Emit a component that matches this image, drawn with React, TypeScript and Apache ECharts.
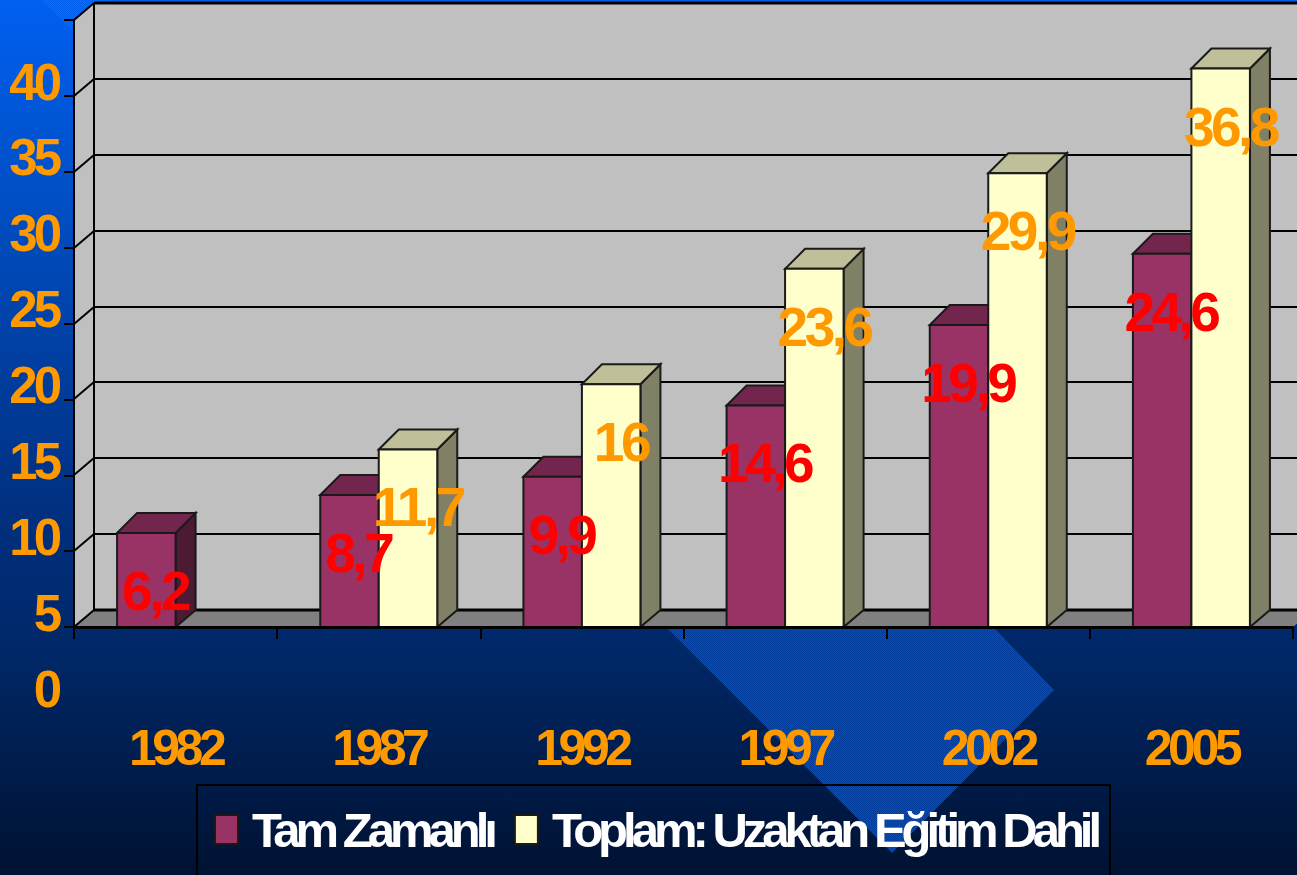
import React, { useEffect, useRef } from "react";
import * as echarts from "echarts";

const years = ["1982", "1987", "1992", "1997", "2002", "2005"];
const fullTime = [6.2, 8.7, 9.9, 14.6, 19.9, 24.6];
const total = [null, 11.7, 16, 23.6, 29.9, 36.8];
const valueTicks = [0, 5, 10, 15, 20, 25, 30, 35, 40];
const nameA = "Tam Zamanlı";
const nameB = "Toplam: Uzaktan Eğitim Dahil";

const FONT = '"Liberation Sans", Arial, sans-serif';
const ORANGE = "#ff9900";
const BAR_W = 58.5;
const DX = 20;
const TOP_DY = 20;
const FLOOR_DY = 17;

function dither(a: string, b: string) {
  const c = document.createElement("canvas");
  c.width = 2;
  c.height = 2;
  const g = c.getContext("2d")!;
  g.fillStyle = a;
  g.fillRect(0, 0, 2, 2);
  g.fillStyle = b;
  g.fillRect(0, 0, 1, 1);
  g.fillRect(1, 1, 1, 1);
  return { image: c, repeat: "repeat" };
}

function barRenderer(side: -1 | 1, front: string, top: string, dark: string, labelColor: string, labelDx: number) {
  return (_p: any, api: any) => {
    const v = api.value(1);
    if (v == null || isNaN(v)) return null;
    const c = api.coord([api.value(0), v]);
    const b = api.coord([api.value(0), 0]);
    const l = side < 0 ? c[0] - BAR_W : c[0];
    const r = l + BAR_W;
    const line = { stroke: "#1a1a1a", lineWidth: 2, lineJoin: "miter" };
    return {
      type: "group",
      children: [
        {
          type: "polygon",
          shape: { points: [[r, c[1]], [r + DX, c[1] - TOP_DY], [r + DX, b[1] - FLOOR_DY], [r, b[1]]] },
          style: { fill: dark, ...line },
          z2: side < 0 ? 1 : 3,
        },
        {
          type: "polygon",
          shape: { points: [[l, c[1]], [l + DX, c[1] - TOP_DY], [r + DX, c[1] - TOP_DY], [r, c[1]]] },
          style: { fill: top, ...line },
          z2: side < 0 ? 1 : 3,
        },
        {
          type: "rect",
          shape: { x: l, y: c[1], width: BAR_W, height: b[1] - c[1] },
          style: { fill: front, ...line },
          z2: side < 0 ? 2 : 4,
        },
        {
          type: "text",
          x: l + labelDx,
          y: c[1] + 58,
          z2: 50,
          style: {
            text: String(v).replace(".", ","),
            fill: labelColor,
            font: `bold 55px ${FONT}`,
            align: "center",
            verticalAlign: "middle",
          },
        },
      ],
    };
  };
}

function wallRenderer(params: any, api: any) {
  const cs = params.coordSys;
  const left = cs.x;
  const right = cs.x + cs.width;
  const yBase = api.coord([0, 0])[1];
  const yTop = api.coord([0, 40])[1];
  const gl = { stroke: "#000", lineWidth: 2 };
  const children: any[] = [
    { type: "polygon", shape: { points: [[left + DX, yTop - FLOOR_DY], [right + DX + 10, yTop - FLOOR_DY], [right + DX + 10, yBase - FLOOR_DY], [left + DX, yBase - FLOOR_DY]] }, style: { fill: "#c0c0c0", stroke: "none" } },
    { type: "polygon", shape: { points: [[left, yBase], [left + DX, yBase - FLOOR_DY], [left + DX, yTop - FLOOR_DY], [left, yTop]] }, style: { fill: "#c0c0c0", stroke: "none" } },
    { type: "polygon", shape: { points: [[left, yBase], [left + DX, yBase - FLOOR_DY], [right + DX, yBase - FLOOR_DY], [right, yBase]] }, style: { fill: "#808080", stroke: "none" } },
    { type: "line", shape: { x1: left + DX, y1: yTop - FLOOR_DY, x2: left + DX, y2: yBase - FLOOR_DY }, style: gl },
  ];
  valueTicks.forEach((t) => {
    const y = Math.round(api.coord([0, t])[1]);
    const w = t === 0 || t === 40 ? 3 : 2;
    children.push({ type: "line", shape: { x1: left, y1: y, x2: left + DX, y2: y - FLOOR_DY }, style: gl });
    children.push({ type: "line", shape: { x1: left + DX, y1: y - FLOOR_DY, x2: right + DX + 10, y2: y - FLOOR_DY }, style: { stroke: "#000", lineWidth: w } });
  });
  return { type: "group", children };
}

export default function App() {
  const ref = useRef<HTMLDivElement>(null);
  useEffect(() => {
    const chart = echarts.init(ref.current!, null, { renderer: "svg" });
    chart.setOption({
      animation: false,
      backgroundColor: {
        type: "linear", x: 0, y: 0, x2: 0, y2: 1,
        colorStops: [
          { offset: 0, color: "#0060f0" },
          { offset: 0.25, color: "#004dc0" },
          { offset: 0.58, color: "#003080" },
          { offset: 0.74, color: "#002868" },
          { offset: 1, color: "#001232" },
        ],
      },
      graphic: {
        elements: [
          { type: "polygon", z: -1, shape: { points: [[42, 0], [74, 32], [110, 0]] }, style: { fill: dither("#0070ff", "#0060ee") } },
          { type: "polygon", z: -1, shape: { points: [[666, 627], [892, 853], [1054, 690], [993, 627]] }, style: { fill: dither("#0050c0", "#003c9c") } },
          { type: "rect", z: 3, shape: { x: 197, y: 785, width: 913, height: 110 }, style: { fill: "none", stroke: "#000", lineWidth: 2 } },
        ],
      },
      grid: { left: 74, right: 4, top: 20, height: 607, containLabel: false, outerBoundsMode: "none" },
      xAxis: {
        type: "category",
        data: years,
        z: 5,
        axisLine: { lineStyle: { color: "#000", width: 3 } },
        axisTick: { show: true, alignWithLabel: false, length: 12, lineStyle: { color: "#000", width: 2 } },
        axisLabel: { color: ORANGE, margin: 96, fontFamily: FONT, fontWeight: "bold", fontSize: 50 },
      },
      yAxis: {
        type: "value",
        min: 0,
        max: 40,
        interval: 5,
        z: 5,
        splitLine: { show: false },
        axisLine: { show: true, lineStyle: { color: "#000", width: 2 } },
        axisTick: { show: true, length: 10, lineStyle: { color: "#000", width: 2 } },
        axisLabel: {
          margin: 16,
          showMinLabel: true,
          showMaxLabel: true,
          formatter: "{v|{value}}",
          rich: { v: { color: ORANGE, fontFamily: FONT, fontWeight: "bold", fontSize: 51, padding: [124, 0, 0, 0] } },
        },
      },
      legend: {
        left: 197,
        top: 785,
        width: 1095,
        data: [{ name: nameA }, { name: nameB }],
        icon: "rect",
        itemWidth: 23,
        itemHeight: 29,
        itemGap: -34,
        padding: [20, 0, 20, 17],
        borderWidth: 0,
        backgroundColor: "transparent",
        selectedMode: false,
        textStyle: { color: "#fff", fontFamily: FONT, fontWeight: "bold", fontSize: 49, padding: [0, 0, 0, 9] },
      },
      series: [
        { type: "custom", name: "walls", z: 0, silent: true, data: [[0, 0]], encode: { x: 0, y: 1 }, renderItem: wallRenderer },
        {
          type: "custom", name: nameA, z: 2,
          itemStyle: { color: "#993366", borderColor: "#1a1a1a", borderWidth: 1 },
          data: years.map((_, i) => [i, fullTime[i]]),
          encode: { x: 0, y: 1 },
          renderItem: barRenderer(-1, "#993366", "#73264d", "#4d1a33", "#ff0000", 38),
        },
        {
          type: "custom", name: nameB, z: 2,
          itemStyle: { color: "#ffffcc", borderColor: "#1a1a1a", borderWidth: 1 },
          data: years.map((_, i) => [i, total[i]]),
          encode: { x: 0, y: 1 },
          renderItem: barRenderer(1, "#ffffcc", "#bfbf99", "#808066", ORANGE, 39),
        },
      ],
    });
    return () => chart.dispose();
  }, []);
  return (
    <>
      <style>{`html,body{margin:0;padding:0;overflow:hidden}
#chart svg text[style*="50px"]{letter-spacing:-4.5px}
#chart svg text[style*="51px"]{letter-spacing:-4px}
#chart svg text[style*="55px"]{letter-spacing:-3.5px}
#chart svg text[style*="49px"]{letter-spacing:-5px}`}</style>
      <div id="chart" ref={ref} style={{ position: "fixed", left: 0, top: 0, width: 1297, height: 875 }} />
    </>
  );
}
